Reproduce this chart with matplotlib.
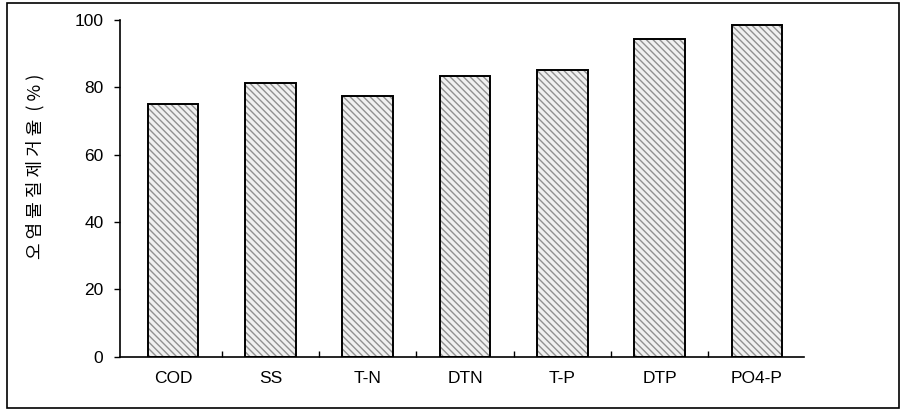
import matplotlib
matplotlib.use('Agg')
import matplotlib.pyplot as plt
from matplotlib.patches import Rectangle
import numpy as np

categories = ['COD', 'SS', 'T-N', 'DTN', 'T-P', 'DTP', 'PO4-P']
removal = [75.0, 81.2, 77.4, 83.3, 85.2, 94.2, 98.6]
yticks = [0, 20, 40, 60, 80, 100]

plt.rcParams['font.family'] = ['Liberation Sans', 'Noto Sans CJK KR', 'DejaVu Sans']

fig = plt.figure(figsize=(9.03, 4.13), dpi=100)
ax = fig.add_axes([0.133, 0.136, 0.757, 0.816])

x = np.arange(len(categories))
# hatched fill first (hatch colour follows edgecolor), then black outline
ax.bar(x, removal, width=0.52, color='#f0f0f0', edgecolor='#909090',
       hatch='\\\\\\\\\\', linewidth=0)
ax.bar(x, removal, width=0.52, fill=False, edgecolor='black', linewidth=1.4)

ax.set_xlim(-0.545, 6.48)
ax.set_ylim(0, 100)
ax.set_xticks(x)
ax.set_xticklabels(categories, fontsize=12.5)
ax.set_xticks(x[:-1] + 0.5, minor=True)
ax.tick_params(axis='x', which='major', length=0, pad=10)
ax.tick_params(axis='x', which='minor', direction='in', length=4, width=1)
ax.set_yticks(yticks)
ax.tick_params(axis='y', labelsize=12.5, length=4, width=1, pad=8)
ax.spines['top'].set_visible(False)
ax.spines['right'].set_visible(False)
ax.spines['left'].set_linewidth(1.2)
ax.spines['bottom'].set_linewidth(1.2)

fig.text(35 / 903, 1 - 166 / 413, '오 염 물 질 제 거 율  ( % )', rotation=90,
         ha='center', va='center', fontsize=13,
         family=['Noto Sans CJK KR', 'DejaVu Sans'])

# outer frame
fig.patches.append(Rectangle((0.008, 0.012), 0.988, 0.98, transform=fig.transFigure,
                             fill=False, edgecolor='black', linewidth=1.2))

fig.savefig('out.png', dpi=100)
